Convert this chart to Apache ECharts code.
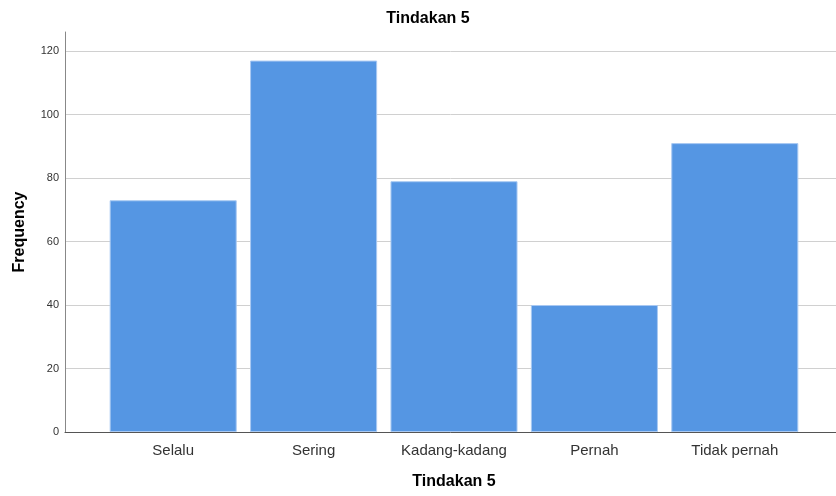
<!DOCTYPE html>
<html>
<head>
<meta charset="utf-8">
<script src="https://cdn.jsdelivr.net/npm/echarts@6/dist/echarts.min.js"></script>
<style>
html,body{margin:0;padding:0;background:#fff;}
#chart{width:836px;height:496px;}
</style>
</head>
<body>
<div id="chart"></div>
<script>
const categories = ['Selalu', 'Sering', 'Kadang-kadang', 'Pernah', 'Tidak pernah'];
const frequencies = [73, 117, 79, 40, 91];
const yTicks = [0, 20, 40, 60, 80, 100, 120];

const chart = echarts.init(document.getElementById('chart'), null, {renderer: 'canvas'});
const FONT = '"Liberation Sans", Arial, sans-serif';
chart.setOption({
  animation: false,
  backgroundColor: '#ffffff',
  title: {
    text: 'Tindakan 5',
    left: 423,
    top: 6,
    textAlign: 'center',
    textStyle: {fontFamily: FONT, fontSize: 16, fontWeight: 'bold', color: '#000'}
  },
  grid: [
    {left: 65, right: 0, top: 32, bottom: 64, containLabel: false, outerBoundsMode: 'none'},
    {left: 103, right: 31, top: 32, bottom: 64, containLabel: false, outerBoundsMode: 'none'}
  ],
  xAxis: [
    {
      gridIndex: 0, type: 'category', data: [''],
      axisLine: {show: true, lineStyle: {color: '#555', width: 1}},
      axisTick: {show: false}, axisLabel: {show: false}, splitLine: {show: false}
    },
    {
      gridIndex: 1, type: 'category', data: categories,
      axisLine: {show: false}, axisTick: {show: false},
      axisLabel: {fontFamily: FONT, fontSize: 15, color: '#333', margin: 11},
      name: 'Tindakan 5', nameLocation: 'middle', nameGap: 42,
      nameTextStyle: {fontFamily: FONT, fontSize: 16, fontWeight: 'bold', color: '#000'}
    }
  ],
  yAxis: [
    {
      gridIndex: 0, type: 'value', min: 0, max: 126, interval: 20,
      axisLine: {show: true, lineStyle: {color: '#888', width: 1}},
      axisTick: {show: false},
      axisLabel: {
        fontFamily: FONT, fontSize: 11, color: '#333', margin: 6,
        showMaxLabel: false,
        formatter: v => yTicks.indexOf(v) >= 0 ? String(v) : ''
      },
      splitLine: {show: true, showMaxLine: false, lineStyle: {color: '#d0d0d0', width: 1}},
      name: 'Frequency', nameLocation: 'middle', nameGap: 37, nameRotate: 90,
      nameTextStyle: {fontFamily: FONT, fontSize: 16, fontWeight: 'bold', color: '#000'}
    },
    {
      gridIndex: 1, type: 'value', min: 0, max: 126, interval: 20, show: false,
      splitLine: {show: false}
    }
  ],
  series: [{
    type: 'bar',
    xAxisIndex: 1,
    yAxisIndex: 1,
    data: frequencies,
    barCategoryGap: '9.5%',
    itemStyle: {color: '#5596e3', borderColor: '#a9c9f2', borderWidth: 1}
  }]
});
</script>
</body>
</html>
